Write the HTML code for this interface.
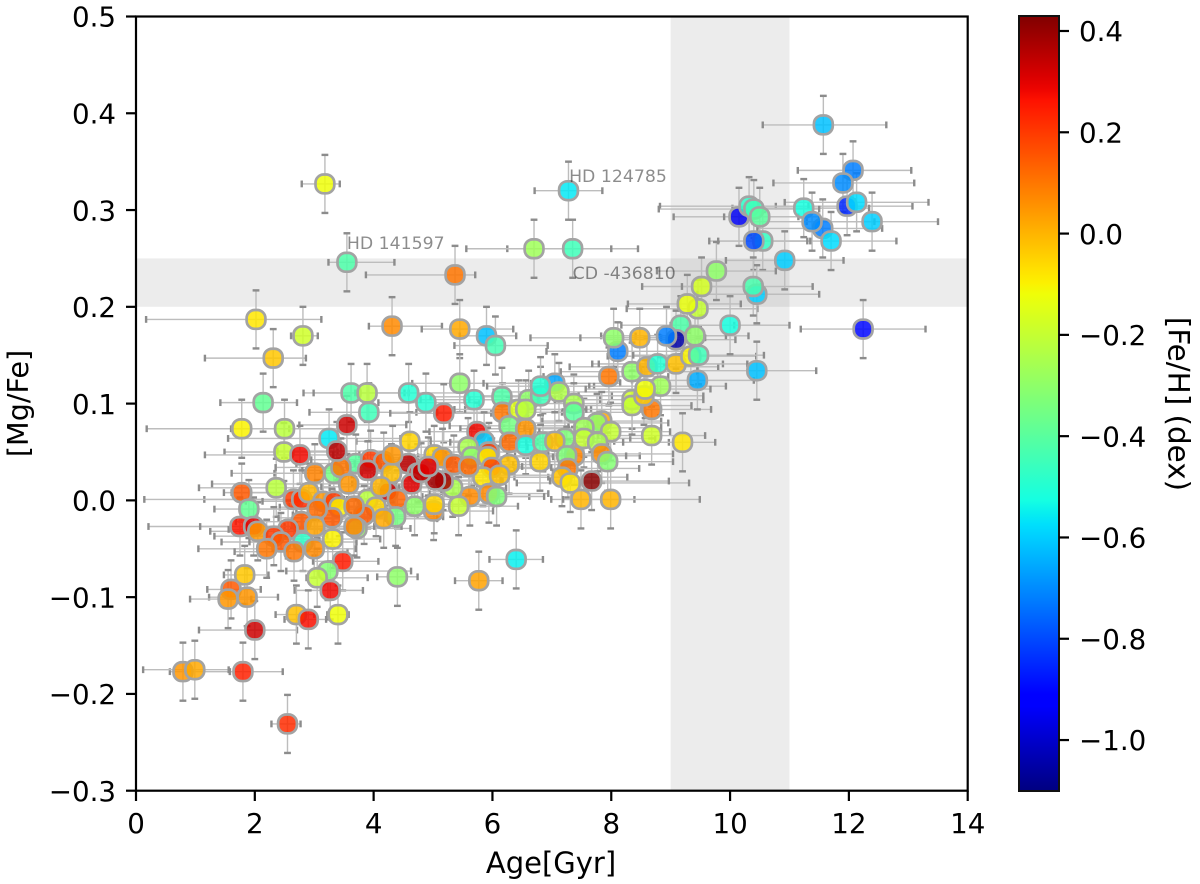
<!DOCTYPE html>
<html lang="en">
<head>
<meta charset="utf-8">
<title>[Mg/Fe] vs Age</title>
<style>
html,body{margin:0;padding:0;background:#fff;width:1200px;height:884px;overflow:hidden}
svg{display:block}
text{font-family:"DejaVu Sans","Liberation Sans",sans-serif;fill:#000}
</style>
</head>
<body>
<svg id="chart" xmlns="http://www.w3.org/2000/svg" width="1200" height="884" viewBox="0 0 1200 884">
  <defs>
    <linearGradient id="jetGrad" x1="0" y1="1" x2="0" y2="0"></linearGradient>
    <clipPath id="plotClip"><rect x="136" y="16.5" width="831.7" height="774.2"></rect></clipPath>
  </defs>
  <rect x="136" y="16.5" width="831.7" height="774.2" fill="#fff"></rect>
  <g id="bands"></g>
  <g id="errs" clip-path="url(#plotClip)"></g>
  <g id="marks" clip-path="url(#plotClip)"></g>
  <g id="notes"></g>
  <rect x="136" y="16.5" width="831.7" height="774.2" fill="none" stroke="#000" stroke-width="2.2"></rect>
  <g id="xaxis"></g>
  <g id="yaxis"></g>
  <text x="551" y="873" font-size="29" text-anchor="middle">Age[Gyr]</text>
  <text transform="translate(28,403.5) rotate(-90)" font-size="28.6" text-anchor="middle">[Mg/Fe]</text>
  <rect x="1019" y="16" width="40" height="775" fill="url(#jetGrad)" stroke="#111" stroke-width="2"></rect>
  <g id="cbaxis"></g>
  <text transform="translate(1168.5,404) rotate(90)" font-size="29.4" text-anchor="middle">[Fe/H] (dex)</text>
</svg>
<script>
// ---- chart data ----
const xTicks = [0, 2, 4, 6, 8, 10, 12, 14];
const yTicks = [-0.3, -0.2, -0.1, 0.0, 0.1, 0.2, 0.3, 0.4, 0.5];
const colorTicks = [-1.0, -0.8, -0.6, -0.4, -0.2, 0.0, 0.2, 0.4];
const mgFeError = 0.03;

const ages = [
 3.62,3.89,3.92,4.59,4.88,2.14,1.78,2.50,3.25,2.49,
 2.36,4.61,3.33,3.70,3.45,3.55,3.38,2.76,3.01,3.95,
 4.17,4.32,4.58,4.74,4.64,4.24,3.90,3.58,3.90,4.12,
 4.30,4.40,4.69,1.78,1.90,2.65,2.79,2.91,3.15,3.33,
 3.67,3.42,4.04,3.84,4.37,4.17,3.72,3.67,2.78,3.01,
 3.30,1.75,1.98,2.05,2.56,2.32,2.44,2.81,3.31,2.20,
 2.66,3.00,3.48,3.23,3.05,1.83,4.40,3.27,1.60,1.87,
 1.55,0.79,0.99,1.80,2.55,2.00,2.70,2.90,3.40,5.77,
 6.40,3.18,2.02,2.31,2.81,3.55,5.37,7.28,7.35,6.70,
 4.31,5.45,5.90,6.05,5.45,5.69,5.18,6.16,6.61,6.17,
 6.44,6.56,6.28,6.56,5.74,5.86,6.29,6.56,6.85,6.81,
 7.05,7.12,6.81,7.37,7.37,7.84,7.76,7.54,7.99,7.54,
 7.22,7.05,7.77,7.38,7.84,7.94,7.25,7.27,6.80,7.17,
 7.31,7.67,7.49,7.99,9.20,8.68,8.68,7.96,8.35,8.60,
 8.78,9.09,9.34,9.47,9.45,8.83,8.35,8.35,8.55,8.57,
 8.11,8.04,5.59,5.65,5.94,5.92,6.28,5.99,5.84,6.12,
 5.62,5.94,6.07,5.33,5.43,5.01,5.02,5.02,5.16,5.35,
 5.60,5.17,5.04,4.80,4.92,11.57,12.07,11.90,11.97,12.13,
 12.39,11.24,11.56,11.38,11.70,10.92,10.15,10.32,10.40,10.50,
 10.55,10.40,9.77,9.52,9.46,9.28,10.45,10.39,9.17,10.00,
 9.09,9.41,8.93,12.24,10.45,8.48,3.05
];
const mgFe = [
 0.111,0.111,0.091,0.111,0.101,0.101,0.074,0.074,0.064,0.050,
 0.013,0.061,0.028,0.038,0.034,0.078,0.051,0.047,0.028,0.042,
 0.040,0.047,0.038,0.028,0.017,0.009,0.031,0.017,0.001,0.014,
 0.028,0.001,-0.006,0.008,-0.009,0.001,0.001,0.008,-0.001,-0.001,
 -0.006,-0.007,-0.007,-0.015,-0.017,-0.019,-0.029,-0.027,-0.022,-0.027,
 -0.018,-0.027,-0.027,-0.032,-0.030,-0.037,-0.043,-0.043,-0.040,-0.050,
 -0.053,-0.050,-0.063,-0.073,-0.080,-0.077,-0.079,-0.093,-0.092,-0.100,
 -0.102,-0.177,-0.175,-0.177,-0.231,-0.134,-0.118,-0.123,-0.118,-0.083,
 -0.061,0.327,0.187,0.147,0.170,0.246,0.233,0.320,0.260,0.260,
 0.180,0.177,0.170,0.160,0.121,0.104,0.090,0.107,0.104,0.091,
 0.094,0.094,0.077,0.074,0.071,0.061,0.060,0.057,0.060,0.108,
 0.121,0.112,0.118,0.100,0.091,0.082,0.080,0.075,0.071,0.064,
 0.064,0.061,0.060,0.046,0.048,0.040,0.046,0.033,0.040,0.024,
 0.018,0.020,0.001,0.001,0.060,0.067,0.094,0.128,0.133,0.138,
 0.141,0.141,0.149,0.150,0.124,0.118,0.104,0.098,0.108,0.115,
 0.154,0.168,0.055,0.045,0.050,0.045,0.037,0.034,0.024,0.026,
 0.004,0.007,0.004,0.013,-0.006,-0.011,-0.004,0.047,0.044,0.037,
 0.035,0.020,0.021,0.029,0.035,0.388,0.341,0.328,0.304,0.308,
 0.288,0.302,0.281,0.288,0.268,0.248,0.293,0.304,0.301,0.293,
 0.268,0.268,0.237,0.221,0.198,0.203,0.213,0.221,0.181,0.181,
 0.166,0.170,0.170,0.177,0.134,0.168,-0.009
];
const feH = [
 -0.42,-0.22,-0.45,-0.50,-0.50,-0.38,-0.10,-0.22,-0.56,-0.20,
 -0.22,-0.05,-0.35,-0.40,0.10,0.33,0.35,0.28,0.08,0.20,
 0.15,0.05,0.35,0.30,0.30,0.33,0.32,0.05,-0.22,0.00,
 -0.02,0.13,-0.30,0.15,-0.38,0.20,0.22,0.00,0.05,0.20,
 0.12,-0.10,-0.05,0.15,-0.35,0.02,-0.30,0.08,0.15,0.03,
 0.15,0.26,0.30,0.05,0.20,0.20,0.15,-0.48,-0.10,0.10,
 0.10,0.07,0.25,-0.32,-0.20,-0.03,-0.30,0.28,0.15,0.05,
 0.05,0.05,0.02,0.24,0.22,0.33,-0.02,0.27,-0.12,0.03,
 -0.55,-0.12,-0.08,-0.03,-0.18,-0.42,0.10,-0.56,-0.45,-0.27,
 0.07,0.02,-0.62,-0.44,-0.30,-0.50,0.25,-0.42,-0.30,0.10,
 -0.15,-0.22,-0.35,0.05,0.28,-0.60,0.12,-0.52,-0.42,-0.45,
 -0.66,-0.24,-0.50,-0.25,-0.40,0.02,-0.30,-0.27,-0.20,-0.20,
 -0.33,-0.02,-0.25,0.08,0.07,-0.32,-0.33,0.10,-0.05,-0.02,
 -0.08,0.42,0.00,0.00,-0.08,-0.18,0.10,0.10,-0.30,0.00,
 -0.50,-0.02,-0.10,-0.45,-0.65,-0.27,-0.18,-0.20,-0.03,-0.12,
 -0.72,-0.30,-0.25,-0.30,0.20,-0.10,-0.02,0.18,-0.08,-0.02,
 0.07,0.07,-0.33,-0.25,-0.20,0.07,-0.05,-0.05,0.05,0.15,
 0.12,0.38,0.38,0.35,0.30,-0.62,-0.72,-0.70,-0.85,-0.58,
 -0.60,-0.52,-0.72,-0.70,-0.58,-0.60,-0.95,-0.48,-0.45,-0.40,
 -0.47,-0.80,-0.30,-0.17,-0.20,-0.13,-0.60,-0.43,-0.42,-0.52,
 -1.05,-0.30,-0.72,-0.90,-0.62,0.00,0.12
];
const ageErrLow = [
 0.80,0.90,1.00,0.90,0.80,0.72,1.60,0.90,1.70,1.00,
 1.30,0.90,1.00,1.00,1.10,0.80,1.00,1.60,1.40,1.00,
 0.80,1.00,0.90,0.70,1.00,0.90,1.10,2.30,1.20,1.00,
 0.90,0.90,0.80,0.30,0.58,1.50,2.65,1.30,1.30,1.20,
 1.10,1.00,1.00,1.20,0.90,1.10,1.00,1.00,1.10,1.20,
 0.90,1.54,0.90,0.80,1.00,1.00,1.00,0.90,0.90,1.15,
 1.00,0.70,0.50,0.70,0.18,0.35,0.34,0.60,0.40,0.64,
 0.64,0.22,0.87,0.22,0.27,0.94,0.35,0.40,0.18,0.40,
 0.45,0.39,1.85,1.15,0.20,0.31,1.50,0.57,1.10,1.14,
 0.39,0.64,0.45,0.69,0.80,0.90,0.90,1.20,1.00,1.10,
 0.90,1.20,1.00,1.10,0.80,0.90,1.00,0.80,0.90,1.00,
 1.20,1.10,0.90,1.00,0.80,1.00,1.30,1.00,1.20,0.90,
 1.00,0.90,1.20,1.00,1.10,1.00,1.00,0.90,0.80,0.80,
 0.90,0.70,0.50,0.80,1.00,0.90,1.10,1.10,1.20,1.30,
 1.10,1.30,1.40,1.10,1.10,1.20,1.30,1.10,1.10,1.00,
 1.20,1.40,1.00,0.90,0.90,1.00,0.90,1.00,0.80,0.90,
 0.80,1.00,0.90,0.90,0.90,0.80,1.10,0.90,0.90,1.10,
 0.90,0.80,0.90,1.00,0.80,1.02,0.93,1.17,1.20,1.21,
 1.10,1.20,1.10,1.00,1.00,0.99,1.10,1.50,1.60,0.60,
 0.90,0.60,1.00,1.00,1.20,1.00,1.00,1.20,1.00,1.00,
 1.20,1.00,1.10,1.05,1.00,1.00,1.00
];
const ageErrHigh = [
 0.90,0.70,0.80,1.00,0.90,0.57,0.80,0.90,1.20,0.90,
 0.90,1.10,0.90,1.20,1.00,1.00,0.80,1.00,1.00,1.10,
 0.90,0.90,1.00,0.80,1.10,0.90,1.00,0.90,0.80,0.90,
 1.00,0.90,0.90,1.00,0.80,0.90,1.00,1.10,0.90,1.00,
 0.90,0.80,1.00,0.90,0.80,0.90,0.90,0.80,1.00,1.00,
 0.90,0.75,0.70,0.80,1.00,0.90,1.00,0.90,0.80,0.70,
 0.90,0.70,0.60,1.40,0.85,0.40,0.34,0.55,0.50,0.52,
 0.39,0.79,0.57,0.67,0.22,0.71,0.30,0.30,0.18,0.40,
 0.45,0.25,1.10,0.55,0.25,0.80,0.34,0.57,1.10,1.30,
 0.84,0.90,0.50,0.88,1.20,1.10,0.80,1.00,1.20,1.00,
 0.90,1.10,1.00,1.00,0.90,0.90,1.10,1.00,1.10,1.20,
 1.10,1.30,0.90,1.10,1.20,1.00,1.20,1.30,1.00,1.20,
 1.10,1.00,1.20,1.10,1.20,1.10,1.00,1.20,1.10,1.10,
 2.00,1.30,0.90,1.50,0.55,0.90,1.00,1.00,1.10,1.20,
 1.10,1.20,1.10,1.10,0.95,1.10,1.20,1.00,1.00,1.10,
 1.20,0.80,1.00,1.10,1.00,1.10,0.90,1.00,1.10,0.90,
 1.00,1.00,0.80,0.90,1.00,1.00,1.00,1.00,1.10,1.00,
 0.90,1.00,1.10,1.10,0.90,1.06,0.98,1.20,1.10,1.21,
 1.11,1.10,1.00,1.05,1.10,0.99,1.00,1.00,1.10,1.00,
 0.80,0.90,1.00,1.00,1.00,0.90,1.05,1.00,0.90,1.00,
 1.00,0.90,1.00,1.05,1.00,1.10,0.90
];
// stars painted last because they sit on top of the crowded cluster
const frontStars = [26, 27, 29, 21, 40, 47, 49, 45];

const noteLabels = ["HD 141597", "HD 124785", "CD -436810"];
const noteAges = [3.55, 7.29, 7.35];
const noteMgFe = [0.2597, 0.329, 0.2287];

const bandAge = [9, 11];
const bandMgFe = [0.2, 0.25];
const colorMin = -1.1006;
const colorMax = 0.4296;

// ---- axis functions ----
const NS = 'http://www.w3.org/2000/svg';
const xOf = v => 136 + v * (831.7 / 14);
const yOf = v => 790.7 - (v + 0.3) * (774.2 / 0.8);
const cbY = v => 791 - (v - colorMin) * (775 / (colorMax - colorMin));

function make(tag, parent, attrs, txt) {
  const el = document.createElementNS(NS, tag);
  for (const k in attrs) el.setAttribute(k, attrs[k]);
  if (txt !== undefined) el.textContent = txt;
  parent.appendChild(el);
  return el;
}
function interp(p, pts) {
  for (let i = 1; i < pts.length; i++) {
    if (p <= pts[i][0]) {
      const a = pts[i - 1], b = pts[i];
      return a[1] + (b[1] - a[1]) * (p - a[0]) / (b[0] - a[0]);
    }
  }
  return pts[pts.length - 1][1];
}
function jet(t) {
  t = Math.max(0, Math.min(1, t));
  const r = interp(t, [[0, 0], [0.35, 0], [0.66, 1], [0.89, 1], [1, 0.5]]);
  const g = interp(t, [[0, 0], [0.125, 0], [0.375, 1], [0.64, 1], [0.91, 0], [1, 0]]);
  const b = interp(t, [[0, 0.5], [0.11, 1], [0.34, 1], [0.65, 0], [1, 0]]);
  return 'rgb(' + Math.round(r * 255) + ',' + Math.round(g * 255) + ',' + Math.round(b * 255) + ')';
}
const fmt = (v, d) => (v < -1e-9 ? '\u2212' : '') + Math.abs(v).toFixed(d);

// colourbar gradient
const grad = document.getElementById('jetGrad');
for (let i = 0; i <= 64; i++) {
  make('stop', grad, { offset: (i / 64), 'stop-color': jet(i / 64) });
}

// bands
const bandsG = document.getElementById('bands');
const bandV = make('rect', bandsG, { x: xOf(bandAge[0]), y: 16.5, width: xOf(bandAge[1]) - xOf(bandAge[0]), height: 774.2, fill: '#808080', 'fill-opacity': 0.15 });


const bandH = make('rect', bandsG, { x: 136, y: yOf(bandMgFe[1]), width: 831.7, height: yOf(bandMgFe[0]) - yOf(bandMgFe[1]), fill: '#808080', 'fill-opacity': 0.15 });



// error bars and markers
const errsG = document.getElementById('errs');
const marksG = document.getElementById('marks');
ages.forEach((age, i) => {
  const cx = xOf(age), cy = yOf(mgFe[i]);
  const xl = xOf(age - ageErrLow[i]), xr = xOf(age + ageErrHigh[i]);
  const yt = yOf(mgFe[i] + mgFeError), yb = yOf(mgFe[i] - mgFeError);
  const g = make('g', errsG, {});
  
  
  make('line', g, { x1: xl, y1: cy, x2: xr, y2: cy, stroke: '#bdbdbd', 'stroke-width': 1.4 });
  make('line', g, { x1: cx, y1: yt, x2: cx, y2: yb, stroke: '#bdbdbd', 'stroke-width': 1.4 });
  make('rect', g, { x: xl - 1.2, y: cy - 3.4, width: 2.4, height: 6.8, fill: '#8c8c8c' });
  make('rect', g, { x: xr - 1.2, y: cy - 3.4, width: 2.4, height: 6.8, fill: '#8c8c8c' });
  make('rect', g, { x: cx - 3.4, y: yt - 1.2, width: 6.8, height: 2.4, fill: '#8c8c8c' });
  make('rect', g, { x: cx - 3.4, y: yb - 1.2, width: 6.8, height: 2.4, fill: '#8c8c8c' });
});
const paintOrder = ages.map((_, i) => i).filter(i => !frontStars.includes(i)).concat(frontStars);
paintOrder.forEach(i => {
  const cx = xOf(ages[i]), cy = yOf(mgFe[i]);
  const m = make('rect', marksG, {
    x: cx - 9.4, y: cy - 9.4, width: 18.8, height: 18.8, rx: 8.2, ry: 8.2,
    fill: jet((feH[i] - colorMin) / (colorMax - colorMin)),
    'fill-opacity': 0.85, stroke: '#a3a3a3', 'stroke-width': 2.7
  });
  
  
});

// annotations
const notesG = document.getElementById('notes');
noteLabels.forEach((label, i) => {
  const n = make('text', notesG, { x: xOf(noteAges[i]), y: yOf(noteMgFe[i]), 'font-size': 17.3, 'fill-opacity': 0.45 }, label);
  
  
});

// x axis
const xG = document.getElementById('xaxis');
xTicks.forEach(v => {
  const t = make('line', xG, { x1: xOf(v), y1: 790.7, x2: xOf(v), y2: 801, stroke: '#000', 'stroke-width': 2.2 });
  
  
  const l = make('text', xG, { x: xOf(v), y: 833, 'font-size': 27.7, 'text-anchor': 'middle' }, String(v));
  
  
});

// y axis
const yG = document.getElementById('yaxis');
yTicks.forEach(v => {
  const t = make('line', yG, { x1: 126, y1: yOf(v), x2: 136, y2: yOf(v), stroke: '#000', 'stroke-width': 2.2 });
  
  
  const l = make('text', yG, { x: 116, y: yOf(v) + 10.2, 'font-size': 27.7, 'text-anchor': 'end' }, fmt(v, 1));
  
  
});

// colourbar axis
const cG = document.getElementById('cbaxis');
colorTicks.forEach(v => {
  const t = make('line', cG, { x1: 1059, y1: cbY(v), x2: 1069, y2: cbY(v), stroke: '#000', 'stroke-width': 2.2 });
  
  
  const l = make('text', cG, { x: 1079, y: cbY(v) + 10.2, 'font-size': 27.7 }, fmt(v, 1));
  
  
});
</script>
</body>
</html>
